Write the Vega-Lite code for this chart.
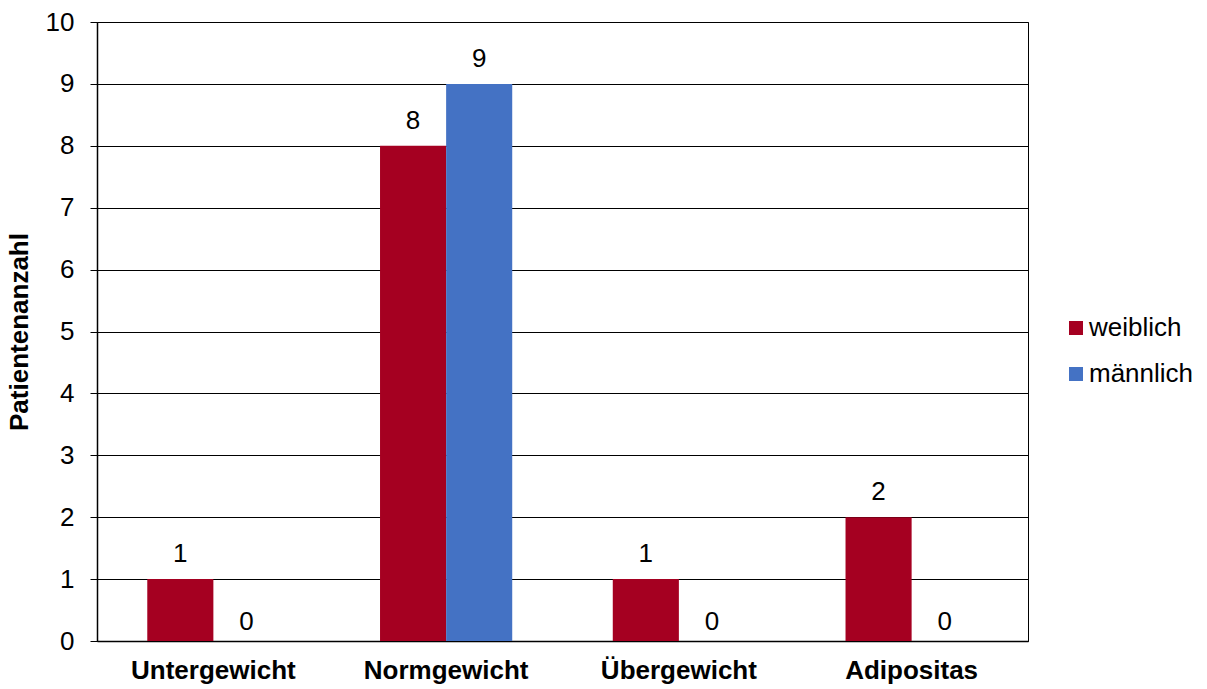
{
  "$schema": "https://vega.github.io/schema/vega-lite/v6.json",
  "autosize": {"type": "none"},
  "padding": {"left": 97, "top": 22, "right": 179, "bottom": 48},
  "width": 931,
  "height": 619,
  "background": "white",
  "config": {
    "font": "Liberation Sans",
    "view": {"stroke": "#000", "strokeWidth": 1}
  },
  "data": {
    "values": [
      {"kategorie": "Untergewicht", "geschlecht": "weiblich", "anzahl": 1},
      {"kategorie": "Untergewicht", "geschlecht": "männlich", "anzahl": 0},
      {"kategorie": "Normgewicht", "geschlecht": "weiblich", "anzahl": 8},
      {"kategorie": "Normgewicht", "geschlecht": "männlich", "anzahl": 9},
      {"kategorie": "Übergewicht", "geschlecht": "weiblich", "anzahl": 1},
      {"kategorie": "Übergewicht", "geschlecht": "männlich", "anzahl": 0},
      {"kategorie": "Adipositas", "geschlecht": "weiblich", "anzahl": 2},
      {"kategorie": "Adipositas", "geschlecht": "männlich", "anzahl": 0}
    ]
  },
  "encoding": {
    "x": {
      "field": "kategorie", "type": "nominal",
      "sort": ["Untergewicht", "Normgewicht", "Übergewicht", "Adipositas"],
      "scale": {"paddingInner": 0.432, "paddingOuter": 0.216},
      "axis": {
        "title": null, "labelAngle": 0, "ticks": false,
        "labelFont": "Liberation Sans", "labelFontSize": 26, "labelFontWeight": "bold",
        "labelColor": "#000", "labelPadding": 16, "domainColor": "#000", "domainWidth": 1.5
      }
    },
    "xOffset": {
      "field": "geschlecht", "type": "nominal",
      "sort": ["weiblich", "männlich"],
      "scale": {"paddingInner": 0, "paddingOuter": 0}
    },
    "y": {
      "field": "anzahl", "type": "quantitative",
      "scale": {"domain": [0, 10], "nice": false},
      "axis": {
        "title": "Patientenanzahl", "titleFontSize": 26, "titleFontWeight": "bold",
        "titleColor": "#000", "titlePadding": 13,
        "values": [0,1,2,3,4,5,6,7,8,9,10],
        "labelFontSize": 26, "labelColor": "#000", "labelPadding": 16,
        "tickSize": 7, "tickColor": "#000", "domainColor": "#000", "domainWidth": 1.5,
        "grid": true, "gridColor": "#000", "gridWidth": 1
      }
    }
  },
  "layer": [
    {
      "mark": {"type": "bar"},
      "encoding": {
        "color": {
          "field": "geschlecht", "type": "nominal",
          "sort": ["weiblich", "männlich"],
          "scale": {"domain": ["weiblich", "männlich"], "range": ["#A50021", "#4472C4"]},
          "legend": {
            "title": null, "orient": "none", "legendX": 966, "legendY": 293,
            "symbolType": "square", "symbolSize": 196, "symbolStrokeWidth": 0,
            "labelFontSize": 26, "labelColor": "#000", "rowPadding": 20,
            "labelOffset": 0, "padding": 0
          }
        }
      }
    },
    {
      "transform": [{"filter": "datum.anzahl > 0"}],
      "mark": {"type": "text", "baseline": "alphabetic", "dy": -17, "fontSize": 26, "color": "#000"},
      "encoding": {"text": {"field": "anzahl", "type": "quantitative"}}
    },
    {
      "transform": [{"filter": "datum.anzahl == 0"}],
      "mark": {"type": "text", "baseline": "alphabetic", "dy": -11, "fontSize": 26, "color": "#000"},
      "encoding": {"text": {"field": "anzahl", "type": "quantitative"}}
    }
  ]
}
